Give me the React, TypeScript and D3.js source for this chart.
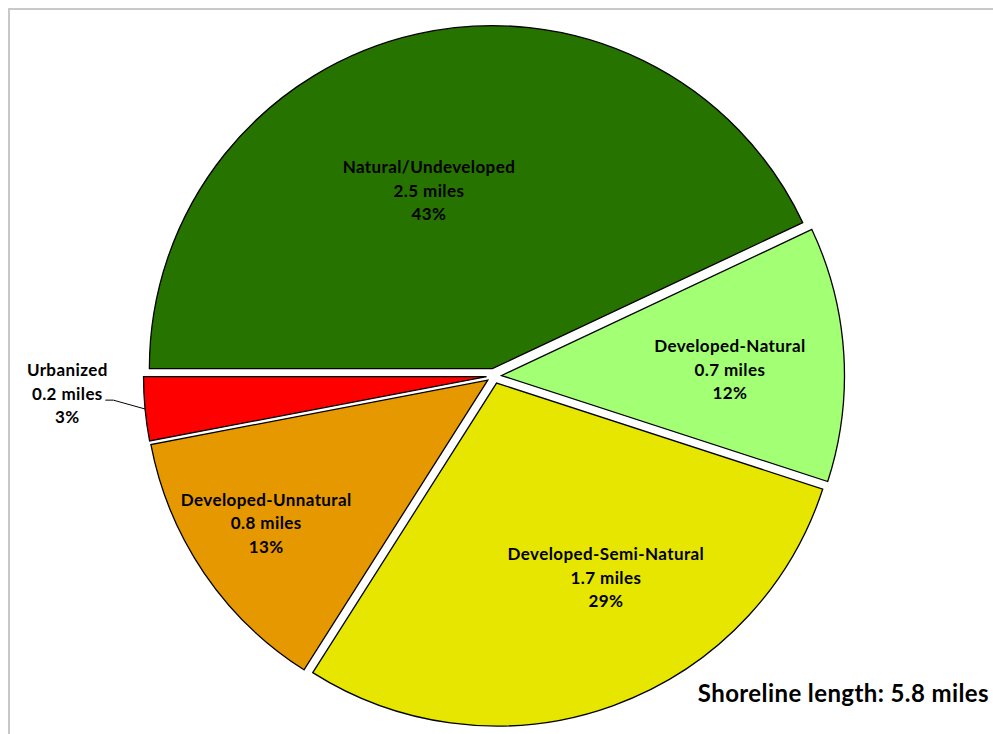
import React from "react";
import * as d3 from "d3";

// shoreline categories, clockwise from 9 o'clock
const categories = [
    "Natural/Undeveloped",
    "Developed-Natural",
    "Developed-Semi-Natural",
    "Developed-Unnatural",
    "Urbanized",
];
const miles = [2.5, 0.7, 1.7, 0.8, 0.2];
const percents = [43, 12, 29, 13, 3];
const colors = ["#267300", "#A3FF73", "#E6E600", "#E69800", "#FF0000"];
const totalLabel = "Shoreline length: 5.8 miles";

// label placement: radius factor and angle shift (deg) from slice middle
const labelRadius = [0.574, 0.688, 0.671, 0.79, 1.245];
const labelShift = [-6.7, 1.9, -9.3, 1.4, 3.1];

type Slice = { name: string; miles: number; pct: number; color: string };

const slices: Slice[] = categories.map((name, i) => ({
    name,
    miles: miles[i],
    pct: percents[i],
    color: colors[i],
}));

const W = 993;
const H = 734;

export default function App() {
    const cx = 494;
    const cy = 376;
    const r = 343;
    const explode = 7.5;
    const font = "Lato, 'Open Sans', sans-serif";

    const pie = d3
        .pie<Slice>()
        .sort(null)
        .value((d) => d.pct)
        .startAngle(-Math.PI / 2)
        .endAngle((3 * Math.PI) / 2);

    const arc = d3.arc<d3.PieArcDatum<Slice>>().innerRadius(0).outerRadius(r);
    const arcs = pie(slices);

    return (
        <svg
            width={W}
            height={H}
            style={{ position: "absolute", left: 0, top: 0, display: "block" }}
        >
            <rect x={0} y={0} width={W} height={H} fill="#fff" />
            <rect x={9} y={9} width={W + 20} height={H + 20} fill="none" stroke="#c8c8c8" strokeWidth={2} />
            <g transform={`translate(${cx},${cy})`}>
                {arcs.map((a, i) => {
                    const mid = (a.startAngle + a.endAngle) / 2;
                    const ox = Math.sin(mid) * explode;
                    const oy = -Math.cos(mid) * explode;
                    return (
                        <path
                            key={i}
                            d={arc(a) ?? ""}
                            transform={`translate(${ox},${oy})`}
                            fill={a.data.color}
                            stroke="#000"
                            strokeWidth={1.3}
                        />
                    );
                })}
                {arcs.map((a, i) => {
                    const mid = (a.startAngle + a.endAngle) / 2;
                    const ang = mid + (labelShift[i] * Math.PI) / 180;
                    const lr = labelRadius[i] * r;
                    const x = Math.sin(ang) * lr;
                    const y = -Math.cos(ang) * lr;
                    const outside = labelRadius[i] > 1;
                    let leader = null;
                    if (outside) {
                        const ox = Math.sin(mid) * explode;
                        const oy = -Math.cos(mid) * explode;
                        const ex = ox + Math.sin(mid) * r;
                        const ey = oy - Math.cos(mid) * r;
                        const lx = x + 38;
                        const ly = y + 7;
                        leader = (
                            <polyline
                                points={`${ex},${ey} ${lx + 8},${ly} ${lx},${ly}`}
                                fill="none"
                                stroke="#000"
                                strokeWidth={1}
                            />
                        );
                    }
                    const lines = [a.data.name, `${a.data.miles} miles`, `${a.data.pct}%`];
                    return (
                        <g key={`l${i}`}>
                            {leader}
                            <text
                                x={x}
                                y={y}
                                textAnchor="middle"
                                fontFamily={font}
                                fontWeight="bold"
                                fontSize={17}
                                letterSpacing={0.4}
                                fill="#000"
                            >
                                {lines.map((t, j) => (
                                    <tspan key={j} x={x} dy={j === 0 ? -23 + 6 : 23.5}>
                                        {t}
                                    </tspan>
                                ))}
                            </text>
                        </g>
                    );
                })}
            </g>
            <text
                x={989}
                y={702}
                textAnchor="end"
                fontFamily={font}
                fontWeight="bold"
                fontSize={24}
                letterSpacing={0.4}
                fill="#000"
            >
                {totalLabel}
            </text>
        </svg>
    );
}
